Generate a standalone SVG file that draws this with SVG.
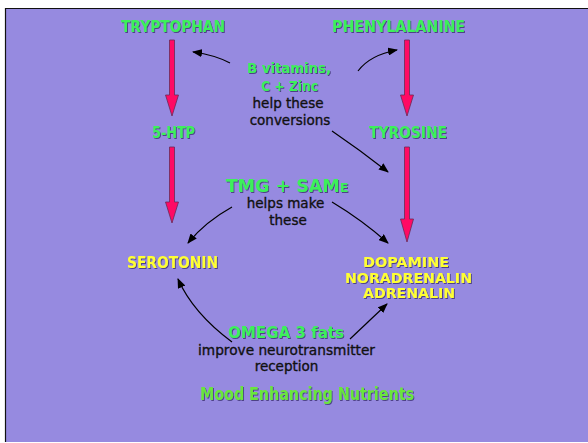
<svg xmlns="http://www.w3.org/2000/svg" width="588" height="443" viewBox="0 0 588 443">
<defs>
<style>
.g{fill:#3cf05a;font-family:"DejaVu Sans",Verdana,sans-serif;font-weight:bold;text-anchor:middle;filter:url(#sh)}
.y{fill:#ffff33;font-family:"DejaVu Sans",Verdana,sans-serif;font-weight:bold;text-anchor:middle;filter:url(#sh)}
.k{fill:#111;stroke:#111;stroke-width:0.35;font-family:"DejaVu Sans",Verdana,sans-serif;text-anchor:middle}
.t{fill:#6be63a;font-family:"DejaVu Sans",Verdana,sans-serif;font-weight:bold;text-anchor:middle;filter:url(#sh)}
.pk{fill:#ff0a64;stroke:#6a2a55;stroke-width:0.8}
.ar{fill:none;stroke:#000;stroke-width:1.2;marker-end:url(#ah)}
</style>
<filter id="sh" x="-10%" y="-30%" width="120%" height="160%">
<feDropShadow dx="1" dy="1" stdDeviation="0.4" flood-color="#3a3070" flood-opacity="0.8"/>
</filter>
<marker id="ah" viewBox="0 0 10 8" refX="9" refY="4" markerWidth="10" markerHeight="8" markerUnits="userSpaceOnUse" orient="auto">
<path d="M0,0 L10,4 L0,8 Z" fill="#000"/>
</marker>
</defs>
<rect x="0" y="0" width="588" height="443" fill="#ffffff"/>
<rect x="6" y="9" width="582" height="433" fill="#968ae0"/>
<path d="M5.5,442 V8.5 H588" fill="none" stroke="#111" stroke-width="1.2"/>

<g id="connectors">
<path class="pk" d="M169.5,40 H174.5 V95 H178.5 L172,116 L165.5,95 H169.5 Z"/>
<path class="pk" d="M169.5,147 H174.5 V202 H178.5 L172,223 L165.5,202 H169.5 Z"/>
<path class="pk" d="M404.5,40 H409.5 V95 H413.5 L407,116 L400.5,95 H404.5 Z"/>
<path class="pk" d="M404.5,147 H409.5 V219 H413.5 L407,242 L400.5,219 H404.5 Z"/>
<path class="ar" d="M230,63 Q215,55 193,52"/>
<path class="ar" d="M358,71 Q370,55 397,50"/>
<path class="ar" d="M332,131 Q360,150 388,172"/>
<path class="ar" d="M232,207 Q205,222 188,243"/>
<path class="ar" d="M332,202 Q362,220 388,243"/>
<path class="ar" d="M232,342 Q193,313 178,279"/>
<path class="ar" d="M350,339 Q370,320 387,304"/>
</g>

<g id="tryptophan"><text class="g" x="173" y="32" font-size="15" textLength="104" lengthAdjust="spacingAndGlyphs">TRYPTOPHAN</text></g>
<g id="phenylalanine"><text class="g" x="398.5" y="32" font-size="15" textLength="133" lengthAdjust="spacingAndGlyphs">PHENYLALANINE</text></g>
<g id="htp"><text class="g" x="173.5" y="138" font-size="15" textLength="43" lengthAdjust="spacingAndGlyphs">5-HTP</text></g>
<g id="tyrosine"><text class="g" x="408" y="138" font-size="15" textLength="78" lengthAdjust="spacingAndGlyphs">TYROSINE</text></g>
<g id="bvitamins">
<text class="g" x="289" y="73" font-size="14" textLength="84" lengthAdjust="spacingAndGlyphs">B vitamins,</text>
<text class="g" x="289.5" y="91" font-size="14" textLength="57" lengthAdjust="spacingAndGlyphs">C + Zinc</text>
<text class="k" x="288" y="108" font-size="13.5">help these</text>
<text class="k" x="290" y="125" font-size="13.5">conversions</text>
</g>
<g id="tmg">
<text class="g" x="287" y="192" font-size="17.5">TMG + SAM<tspan font-size="12.5">E</tspan></text>
<text class="k" x="285.5" y="208" font-size="13.5">helps make</text>
<text class="k" x="288" y="225" font-size="13.5">these</text>
</g>
<g id="serotonin"><text class="y" x="172.5" y="268" font-size="15" textLength="91" lengthAdjust="spacingAndGlyphs">SEROTONIN</text></g>
<g id="dopamine">
<text class="y" x="406" y="267" font-size="14" textLength="86" lengthAdjust="spacingAndGlyphs">DOPAMINE</text>
<text class="y" x="408.5" y="282.5" font-size="14" textLength="127" lengthAdjust="spacingAndGlyphs">NORADRENALIN</text>
<text class="y" x="409" y="298" font-size="14" textLength="92" lengthAdjust="spacingAndGlyphs">ADRENALIN</text>
</g>
<g id="omega">
<text class="g" x="286" y="338" font-size="15.5" textLength="116" lengthAdjust="spacingAndGlyphs">OMEGA 3 fats</text>
<text class="k" x="286.5" y="355" font-size="13.5" textLength="177" lengthAdjust="spacingAndGlyphs">improve neurotransmitter</text>
<text class="k" x="286.5" y="371" font-size="13.5">reception</text>
</g>
<g id="title"><text class="t" x="307" y="400" font-size="17" textLength="214" lengthAdjust="spacingAndGlyphs">Mood Enhancing Nutrients</text></g>
</svg>
